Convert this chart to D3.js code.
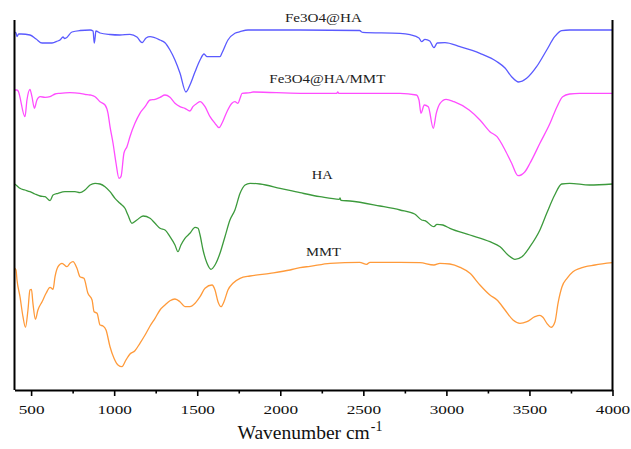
<!DOCTYPE html>
<html>
<head>
<meta charset="utf-8">
<script src="https://cdn.jsdelivr.net/npm/d3@7"></script>
<style>
  body { margin: 0; background: #fff; }
  svg text { font-family: "Liberation Serif", "DejaVu Serif", serif; }
</style>
</head>
<body>
<div id="chart"></div>
<script>
// FTIR spectra, stacked with offsets (arbitrary transmittance units)
// each point: [wavenumber cm-1, transmittance a.u.]
const fe3o4HA = [
    [400, 358], [409, 357], [415, 353.5], [425, 356], [440, 356], [493, 355], [530, 351], [566, 347],
    [626, 347], [660, 349], [674, 350], [692, 353], [702, 351.5], [710, 352], [746, 358], [794, 359.5],
    [855, 360], [873, 359], [880, 347], [885, 352], [890, 359], [915, 357], [975, 355.5], [1035, 355],
    [1095, 355.7], [1137, 353], [1168, 347.3], [1192, 352], [1216, 353.3], [1276, 350], [1306, 347.3],
    [1336, 340], [1366, 330], [1396, 317], [1432, 298], [1456, 305], [1487, 318.3], [1517, 330],
    [1541, 336], [1559, 333.3], [1577, 333.3], [1637, 333.3], [1649, 337], [1685, 350], [1727, 356.7],
    [1758, 358.3], [1806, 360], [2000, 360], [2119, 360], [2478, 359.5], [2490, 358], [2496, 357.7],
    [2721, 356.7], [2781, 355.3], [2835, 352], [2851, 348.3], [2871, 350.7], [2900, 349], [2925, 342.3],
    [2945, 347], [2991, 347.3], [3082, 343.3], [3202, 336.7], [3305, 328.3], [3353, 322], [3393, 313.3],
    [3435, 308], [3483, 311.7], [3543, 323.3], [3604, 340], [3652, 353.3], [3694, 359.3], [3742, 360],
    [4000, 360]
];

const fe3o4HAMMT = [
    [400, 300], [413, 300], [421, 299.3], [463, 273.3], [475, 290], [493, 300.7], [505, 293.3], [520, 281.7],
    [535, 290], [554, 293.3], [584, 292.7], [614, 293.3], [644, 296], [674, 296.7], [734, 297.3],
    [794, 296.7], [824, 295.7], [855, 295], [885, 293.3], [915, 288.3], [945, 285], [963, 276.7],
    [975, 263.3], [993, 247], [1011, 227], [1029, 211.7], [1041, 213.3], [1059, 237], [1077, 243.3],
    [1095, 253.3], [1125, 266.7], [1155, 276.7], [1186, 283.3], [1216, 290], [1246, 290.7], [1276, 292.7],
    [1306, 295], [1336, 292.7], [1366, 286.7], [1396, 283.3], [1426, 281.7], [1456, 279], [1474, 283.3],
    [1499, 286.7], [1517, 288.3], [1547, 283.3], [1577, 273.3], [1607, 266.7], [1631, 262.3], [1649, 266.7],
    [1679, 278.3], [1709, 286.7], [1727, 288.3], [1745, 286.7], [1758, 291.7], [1770, 296.7], [1818, 297.3],
    [1836, 298], [2119, 296.7], [2340, 296.7], [2346, 298], [2352, 296.7], [2721, 296.7], [2819, 295],
    [2835, 290], [2847, 276.7], [2867, 285], [2891, 283.3], [2921, 261.7], [2939, 276.7], [2962, 286.7],
    [2998, 290.7], [3046, 288.3], [3137, 280], [3202, 270], [3262, 258.3], [3305, 253.3], [3353, 240],
    [3393, 226.7], [3431, 214.3], [3473, 218.3], [3503, 226.7], [3563, 246.7], [3624, 266.7], [3666, 283.3],
    [3700, 293.3], [3742, 296], [3802, 296.7], [4000, 296.7]
];

const ha = [
    [400, 206], [409, 205], [421, 203.3], [433, 201.7], [463, 200], [493, 198.3], [523, 196], [554, 194],
    [584, 193.3], [614, 189.3], [632, 195], [662, 196.7], [704, 198.3], [764, 198.3], [794, 197.3],
    [824, 200], [855, 205], [885, 206.7], [915, 206], [945, 203.3], [975, 198.3], [1005, 191.7],
    [1035, 186.7], [1065, 181.7], [1083, 175], [1107, 166.7], [1137, 170], [1174, 174], [1216, 171.7],
    [1246, 166.7], [1276, 161.7], [1306, 160], [1336, 153.3], [1366, 145], [1384, 138.3], [1402, 145],
    [1426, 151.7], [1456, 156.7], [1487, 162.7], [1505, 161.7], [1517, 155], [1535, 140], [1559, 126.7],
    [1583, 120.7], [1607, 125], [1637, 136.7], [1667, 153.3], [1697, 170], [1727, 180], [1758, 196.7],
    [1788, 205], [1818, 206.7], [1878, 206], [1999, 201.7], [2119, 197.3], [2239, 193.3], [2355, 190.7],
    [2360, 192], [2365, 189.7], [2420, 189], [2600, 184], [2721, 180], [2809, 176], [2851, 170],
    [2871, 169.3], [2925, 163.3], [2943, 165.7], [2979, 165], [3021, 161.7], [3142, 155], [3262, 148.3],
    [3323, 143.3], [3371, 135], [3413, 130.7], [3455, 133.3], [3503, 143.3], [3563, 160], [3604, 176.7],
    [3652, 195], [3694, 206], [3742, 206.7], [3862, 205], [4000, 206]
];

const mmt = [
    [400, 122], [409, 120], [415, 110], [433, 93.3], [451, 73.3], [466, 62.7], [481, 80], [493, 100],
    [502, 100.7], [511, 86.7], [526, 70.7], [541, 80], [566, 88.3], [590, 96.7], [614, 102.7], [632, 100.7],
    [644, 113.3], [662, 123.3], [686, 126.7], [716, 123.3], [734, 126.7], [752, 128.3], [776, 121.7],
    [794, 113.3], [818, 111.7], [842, 96.7], [867, 90], [879, 78.3], [897, 76.7], [915, 65], [933, 64],
    [951, 60], [975, 43.3], [999, 31.7], [1023, 25], [1047, 23.3], [1071, 30], [1095, 36], [1125, 39.3],
    [1155, 46.7], [1186, 55], [1216, 64], [1246, 71.7], [1276, 80], [1306, 85], [1336, 89.3], [1366, 91],
    [1396, 88.3], [1426, 83.3], [1456, 83.3], [1487, 86.7], [1517, 93.3], [1547, 101.7], [1589, 105],
    [1607, 100], [1625, 88.3], [1643, 83.3], [1661, 88.3], [1685, 100], [1715, 106.7], [1758, 111.7],
    [1818, 114], [1938, 116.7], [2059, 120], [2119, 122.3], [2179, 123.7], [2300, 126.7], [2478, 127.7],
    [2520, 125.7], [2540, 127.7], [2721, 127.7], [2841, 127.3], [2925, 125], [2961, 126.7], [3021, 126],
    [3082, 122.7], [3142, 116.7], [3202, 105], [3262, 95], [3305, 90], [3353, 80], [3401, 70],
    [3443, 66.7], [3485, 68.3], [3533, 73.3], [3563, 74.7], [3581, 72.7], [3605, 66.7], [3630, 62.7],
    [3654, 68.3], [3672, 86.7], [3696, 103.3], [3726, 111.7], [3762, 118.3], [3804, 121.7], [3894, 125],
    [4000, 127.3]
];

const seriesNames = ["Fe3O4@HA", "Fe3O4@HA/MMT", "HA", "MMT"];
const seriesColors = ["#5a5aff", "#ff4cff", "#3c9a3c", "#ff9a3a"];
// label anchor: [wavenumber, transmittance] of the label's left baseline
const labelPos = [[2028, 368.5], [1934, 307], [2189, 211], [2155, 134.5]];
const labelWidths = [77, 116, 21, 35];

const majorTicks = [500, 1000, 1500, 2000, 2500, 3000, 3500, 4000];
const minorTicks = [750, 1250, 1750, 2250, 2750, 3250, 3750];

const serif = "'Liberation Serif', 'DejaVu Serif', serif";
const width = 631, height = 449;
const padding = {top: 20, right: 18.5, bottom: 59, left: 14.5};

const svg = d3.select("#chart")
    .append("svg")
    .attr("width", width)
    .attr("height", height);

const xScale = d3.scaleLinear()
    .domain([400, 4000])
    .range([padding.left, width - padding.right]);

const yScale = d3.scaleLinear()
    .domain([0, 370])
    .range([height - padding.bottom, padding.top]);

const line = d3.line()
    .x(d => xScale(d[0]))
    .y(d => yScale(d[1]))
    .curve(d3.curveMonotoneX);

// spectra
[fe3o4HA, fe3o4HAMMT, ha, mmt].forEach((data, i) => {
    svg.append("path")
        .datum(data)
        .attr("fill", "none")
        .attr("stroke", seriesColors[i])
        .attr("stroke-width", 1.3)
        .attr("d", line);

    svg.append("text")
        .attr("x", xScale(labelPos[i][0]))
        .attr("y", yScale(labelPos[i][1]))
        .attr("font-family", serif)
        .attr("font-size", "13px")
        .attr("fill", "#222")
        .attr("textLength", labelWidths[i])
        .attr("lengthAdjust", "spacingAndGlyphs")
        .text(seriesNames[i]);
});

// bottom axis, minor ticks
svg.append("g")
    .attr("transform", "translate(0," + (height - padding.bottom) + ")")
    .call(d3.axisBottom(xScale).tickValues(minorTicks).tickSize(3.5).tickFormat(""))
    .call(g => g.select(".domain").remove())
    .selectAll("line").attr("stroke-width", 1.6);

// bottom axis, major ticks
const xAxis = svg.append("g")
    .attr("transform", "translate(0," + (height - padding.bottom) + ")")
    .call(d3.axisBottom(xScale).tickValues(majorTicks).tickFormat(d3.format("d"))
        .tickSize(6).tickSizeOuter(0).tickPadding(8));

xAxis.attr("font-family", serif);
xAxis.select(".domain").attr("stroke-width", 2);
xAxis.selectAll("line").attr("stroke-width", 1.6);
xAxis.selectAll("text")
    .attr("font-family", serif)
    .attr("font-size", "13.5px")
    .attr("fill", "#111")
    .attr("textLength", d => String(d).length * 8.6)
    .attr("lengthAdjust", "spacingAndGlyphs");

// left and right frame lines
[padding.left, width - padding.right].forEach(x => {
    svg.append("line")
        .attr("x1", x).attr("x2", x)
        .attr("y1", padding.top).attr("y2", height - padding.bottom)
        .attr("stroke", "#000")
        .attr("stroke-width", 2);
});

// x-axis title
const title = svg.append("text")
    .attr("x", 310)
    .attr("y", 438.5)
    .attr("text-anchor", "middle")
    .attr("font-family", serif)
    .attr("font-size", "19.5px")
    .attr("fill", "#111");
title.append("tspan").text("Wavenumber cm");
title.append("tspan")
    .attr("font-size", "14px")
    .attr("dy", "-8")
    .attr("dx", "1")
    .text("-1");
</script>
</body>
</html>
